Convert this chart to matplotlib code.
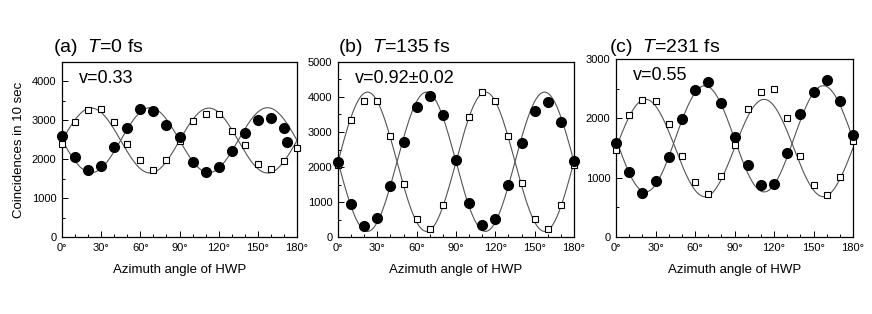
import numpy as np
import matplotlib
matplotlib.use("Agg")
import matplotlib.pyplot as plt
from matplotlib.ticker import MultipleLocator

plt.rcParams["font.family"] = ["Liberation Sans", "DejaVu Sans"]
plt.rcParams["mathtext.fontset"] = "custom"
plt.rcParams["mathtext.rm"] = "Liberation Sans"
plt.rcParams["mathtext.it"] = "Liberation Sans:italic"

# HWP angles (deg)
angles = [0, 10, 20, 30, 40, 50, 60, 70, 80, 90, 100, 110, 120, 130, 140, 150, 160, 170, 180]

# (a) T=0 fs
a_sq = [2400, 2950, 3275, 3285, 2970, 2390, 1970, 1730, 1970, 2480,
        2995, 3175, 3175, 2720, 2355, 1870, 1740, 1945, 2300]
a_ci_x = [0, 10, 20, 30, 40, 50, 60, 70, 80, 90, 100, 110, 120, 130, 140, 150, 160, 170, 172]
a_ci = [2595, 2070, 1715, 1835, 2305, 2815, 3300, 3235, 2885, 2565,
        1925, 1680, 1800, 2200, 2680, 3000, 3060, 2800, 2440]

# (b) T=135 fs
b_sq = [2065, 3350, 3900, 3900, 2885, 1515, 505, 230, 925, 2200,
        3425, 4140, 3900, 2890, 1540, 505, 230, 905, 2045]
b_ci = [2140, 930, 325, 535, 1455, 2710, 3720, 4025, 3480, 2190,
        960, 335, 525, 1475, 2675, 3595, 3865, 3280, 2160]

# (c) T=231 fs
c_sq = [1465, 2055, 2310, 2290, 1900, 1370, 920, 730, 1030, 1550,
        2150, 2450, 2495, 2000, 1370, 870, 710, 1005, 1615]
c_ci = [1585, 1090, 745, 940, 1355, 1990, 2475, 2615, 2260, 1680,
        1220, 880, 900, 1410, 2065, 2450, 2645, 2300, 1720]

# sinusoidal fits: (mean, amplitude), squares rise / circles fall from 0 deg
fit_sq = [(2480, 835), (2150, 1990), (1500, 820)]
fit_ci = [(2490, 835), (2150, 1990), (1655, 895)]

titles = ["(a)  $T$=0 fs", "(b)  $T$=135 fs", "(c)  $T$=231 fs"]
vis_labels = ["v=0.33", "v=0.92\u00b10.02", "v=0.55"]
ymax = [4500, 5000, 3000]

fig = plt.figure(figsize=(8.72, 3.14), dpi=100)
W, H = 872, 314
boxes = [(62, 297, 62, 237), (338, 574, 62, 237), (616, 853, 59, 237)]
title_x = [53, 338, 609]

panels = [
    (angles, a_sq, a_ci_x, a_ci),
    (angles, b_sq, angles, b_ci),
    (angles, c_sq, angles, c_ci),
]

theta = np.linspace(0, 180, 400)

for i, (sx, sy, cx, cy) in enumerate(panels):
    l, r, t, b = boxes[i]
    ax = fig.add_axes([l / W, 1 - b / H, (r - l) / W, (b - t) / H])

    m, a = fit_sq[i]
    ax.plot(theta, m + a * np.sin(np.radians(4 * theta)), color="#555555", lw=0.8, zorder=2)
    m, a = fit_ci[i]
    ax.plot(theta, m - a * np.sin(np.radians(4 * theta)), color="#555555", lw=0.8, zorder=2)

    ax.plot(sx, sy, "s", ms=4.8, mfc="white", mec="black", mew=0.8,
            linestyle="none", clip_on=False, zorder=3)
    ax.plot(cx, cy, "o", ms=7, mfc="black", mec="black",
            linestyle="none", clip_on=False, zorder=4)

    ax.set_xlim(0, 180)
    ax.set_ylim(0, ymax[i])
    ax.xaxis.set_major_locator(MultipleLocator(30))
    ax.xaxis.set_minor_locator(MultipleLocator(10))
    ax.yaxis.set_major_locator(MultipleLocator(1000))
    ax.yaxis.set_minor_locator(MultipleLocator(500))
    ax.set_xticks(range(0, 181, 30))
    ax.set_xticklabels([f"{d}\u00b0" for d in range(0, 181, 30)])
    ax.tick_params(which="both", direction="in", top=False, right=False,
                   labelsize=8, width=0.7)
    ax.tick_params(which="major", length=4, pad=4)
    ax.tick_params(which="minor", length=2.5)
    for s in ax.spines.values():
        s.set_linewidth(0.9)

    ax.set_xlabel("Azimuth angle of HWP", fontsize=9.5, labelpad=8)
    if i == 0:
        ax.set_ylabel("Coincidences in 10 sec", fontsize=9.5, labelpad=5)

    ax.text(0.07, 0.955, vis_labels[i], transform=ax.transAxes,
            fontsize=13, ha="left", va="top")
    fig.text(title_x[i] / W, 1 - 52 / H, titles[i], fontsize=14,
             ha="left", va="baseline")

fig.savefig("out.png", dpi=100)
